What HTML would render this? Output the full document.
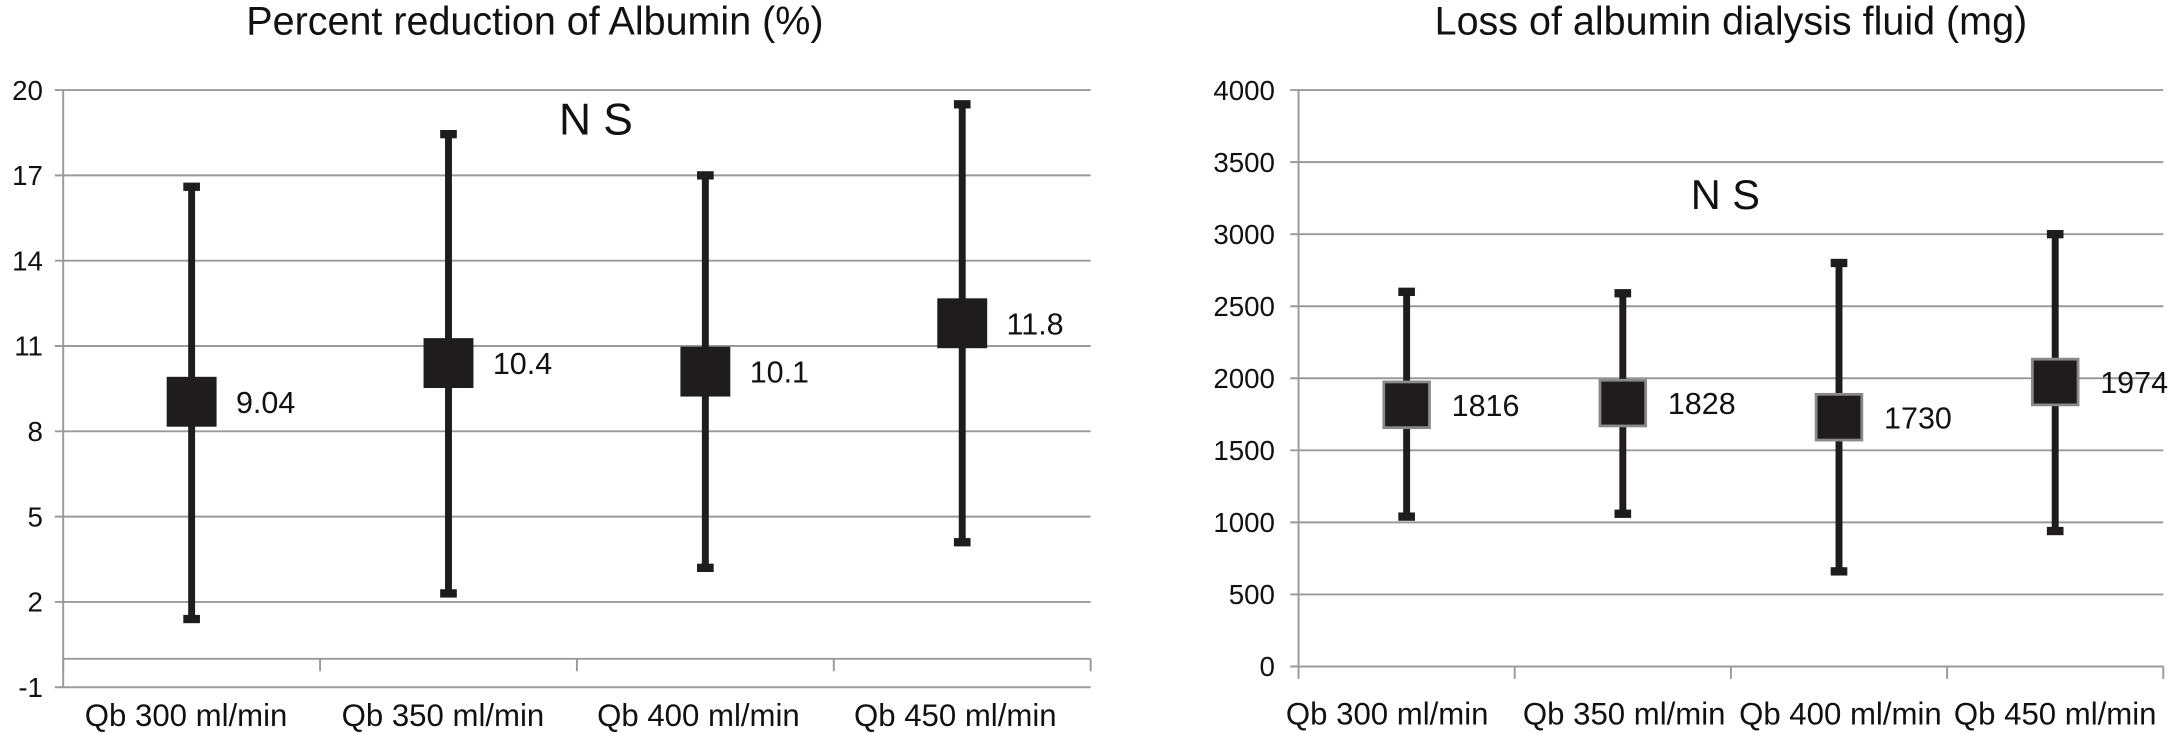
<!DOCTYPE html>
<html><head><meta charset="utf-8"><style>
html,body{margin:0;padding:0;background:#fff}
svg{display:block;font-family:"Liberation Sans",Arial,sans-serif}
</style></head><body>
<svg id="s" width="2173" height="733" viewBox="0 0 1568 529" preserveAspectRatio="none">
<text x="386" y="25" font-size="28.5" text-anchor="middle" fill="#111">Percent reduction of Albumin (%)</text>
<text x="1249" y="25" font-size="28.5" text-anchor="middle" fill="#111">Loss of albumin dialysis fluid (mg)</text>
<text x="430" y="97" font-size="32" text-anchor="middle" fill="#111">N S</text>
<text x="1245" y="151" font-size="30" text-anchor="middle" fill="#111">N S</text>
<g id="L"></g><g id="R"></g>
</svg>
<script>
const categories=["Qb 300 ml/min","Qb 350 ml/min","Qb 400 ml/min","Qb 450 ml/min"];
const leftMeans=[9.04,10.4,10.1,11.8];
const leftHigh=[16.6,18.45,17.0,19.5];
const leftLow=[1.4,2.3,3.2,4.1];
const leftLabels=["9.04","10.4","10.1","11.8"];
const leftTicks=[-1,2,5,8,11,14,17,20];
const rightMeans=[1816,1828,1730,1974];
const rightHigh=[2600,2590,2800,3000];
const rightLow=[1040,1060,660,940];
const rightLabels=["1816","1828","1730","1974"];
const rightTicks=[0,500,1000,1500,2000,2500,3000,3500,4000];
const NS="http://www.w3.org/2000/svg";
function mk(p,t,a){const e=document.createElementNS(NS,t);for(const k in a)e.setAttribute(k,a[k]);p.appendChild(e);return e;}
function chart(g,o){
 const y=v=>o.y0+(v-o.vmin)/(o.vmax-o.vmin)*(o.y1-o.y0);
 const cw=(o.x1-o.x0)/categories.length;
 const cx=i=>o.x0+cw*(i+0.5);
 o.ticks.forEach(t=>{
  const l=mk(g,'line',{x1:o.x0-6,x2:o.x1,y1:y(t),y2:y(t),stroke:'#9a9a9a','stroke-width':1.4});
  
  
  const tx=mk(g,'text',{x:o.lx,y:y(t)+7,'font-size':20,'text-anchor':'end',fill:'#111'});
  tx.textContent=t;
  
  
 });
 const ax=mk(g,'line',{x1:o.x0,x2:o.x0,y1:y(o.vmax),y2:y(o.vmin),stroke:'#9a9a9a','stroke-width':1.4});
 
 
 const xa=mk(g,'line',{x1:o.x0,x2:o.x1,y1:y(0),y2:y(0),stroke:'#9a9a9a','stroke-width':1.4});
 
 
 for(let i=0;i<=categories.length;i++){
  const tk=mk(g,'line',{x1:o.x0+cw*i,x2:o.x0+cw*i,y1:y(0),y2:y(0)+9,stroke:'#9a9a9a','stroke-width':1.4});
  
  
 }
 categories.forEach((c,i)=>{
  const tx=mk(g,'text',{x:cx(i)+o.shift[i],y:o.xly,'font-size':22.5,'text-anchor':'middle',fill:'#111'});
  tx.textContent=c;
  
  
  const eb=mk(g,'line',{x1:cx(i),x2:cx(i),y1:y(o.hi[i]),y2:y(o.lo[i]),stroke:'#1e1c1d','stroke-width':5});
  
  
  [o.hi[i],o.lo[i]].forEach(v=>{
   const cap=mk(g,'rect',{x:cx(i)-6,y:y(v)-3,width:12,height:6,fill:'#1e1c1d'});
   
   
  });
  const s=o.ms;
  const m=mk(g,'rect',{x:cx(i)-s/2,y:y(o.m[i])-s/2,width:s,height:s,fill:'#1e1c1d',stroke:o.mstroke,'stroke-width':o.mstroke==='none'?0:2});
  
  
  const lt=mk(g,'text',{x:cx(i)+s/2+o.lgap,y:y(o.m[i])+8,'font-size':o.vfs,fill:'#111'});
  lt.textContent=o.labels[i];
  
  
 });
}
chart(document.getElementById('L'),{x0:45.6,x1:787,y0:496,y1:65,vmin:-1,vmax:20,ticks:leftTicks,lx:31,xly:524,shift:[-4,-4,-5,-5],m:leftMeans,hi:leftHigh,lo:leftLow,labels:leftLabels,ms:36,mstroke:'none',lgap:14,vfs:22});
chart(document.getElementById('R'),{x0:937,x1:1561,y0:481,y1:65,vmin:0,vmax:4000,ticks:rightTicks,lx:920,xly:523,shift:[-14,1,1,0],m:rightMeans,hi:rightHigh,lo:rightLow,labels:rightLabels,ms:33,mstroke:'#8a8a8a',lgap:16,vfs:22});
</script>
</body></html>
